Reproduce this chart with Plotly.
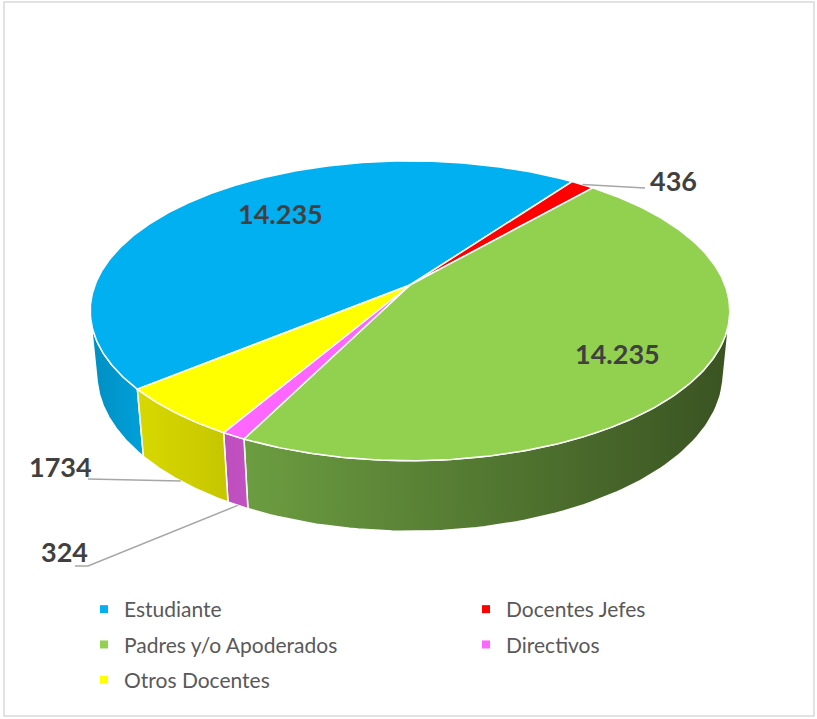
import numpy as np
import plotly.graph_objects as go

# ---------------- data ----------------
categories = ["Estudiante", "Docentes Jefes", "Padres y/o Apoderados", "Directivos", "Otros Docentes"]
values = [14235, 436, 14235, 324, 1734]
value_labels = ["14.235", "436", "14.235", "324", "1734"]

# ---------------- style ----------------
top_colors = ["#00B0F0", "#FF0000", "#92D050", "#FF66FF", "#FFFF00"]
side_colors = [["#008FC2", "#00A0DA"], ["#CC0000", "#CC0000"], ["#6C9D41", "#3A5322"],
               ["#BE4EBE", "#C252C2"], ["#D8D800", "#C6C600"]]
W, H = 817, 719
CX, CY = 410, 285          # projected pie centre (px)
K = 315                    # radius scale (px)
ELEV = np.radians(27.5)    # view elevation
DIST = 5.15                # camera distance (in radii)
HEIGHT = 0.227             # pie thickness (in radii)
START = 219.6              # first slice angle (deg), slices go clockwise
FONT = "Lato, 'Open Sans', sans-serif"
LABEL_COLOR = "#404040"
LEADER_COLOR = "#A6A6A6"
# inside label placement: index -> (radius fraction, angle offset deg)
INSIDE = {0: (0.70, -7.0), 2: (0.75, -2.0)}
# leader paths / text anchors for the small slices (index -> style)
OUTSIDE = {
    1: dict(y=0.0, path=[(645, 188)], text=(648, 180), anchor="left"),
    4: dict(y=-HEIGHT, path=[(88, 479)], text=(94, 466), anchor="right"),
    3: dict(y=-HEIGHT, path=[(88, 566), (75, 566)], text=(90, 551), anchor="right"),
}
# legend columns: which legend each category goes into
legend_of = ["legend", "legend2", "legend", "legend2", "legend"]


def project(theta_deg, r=1.0, y=0.0):
    th = np.radians(np.asarray(theta_deg, dtype=float))
    X = r * np.cos(th)
    Z = -r * np.sin(th)
    s, c = np.sin(ELEV), np.cos(ELEV)
    up = y * c - Z * s
    depth = y * s + Z * c
    scale = DIST / (DIST - depth)
    return CX + K * X * scale, CY - K * up * scale


total = float(sum(values))
spans = [v / total * 360.0 for v in values]
starts = [START - sum(spans[:i]) for i in range(len(values))]
ends = [starts[i] - spans[i] for i in range(len(values))]

# visible wall range (front side of the cylinder)
a = np.degrees(np.arcsin(1.0 / (DIST * np.cos(ELEV))))
vis_lo, vis_hi = 180 + a, 360 - a

fig = go.Figure()

# ---- walls ----
for i in range(len(values)):
    lo, hi = ends[i], starts[i]
    for shift in (-720, -360, 0, 360):
        l2, h2 = max(lo, vis_lo + shift), min(hi, vis_hi + shift)
        if h2 > l2:
            th = np.linspace(h2, l2, 80)
            xt, yt = project(th)
            xb, yb = project(th[::-1], y=-HEIGHT)
            xs = np.concatenate([xt, xb, xt[:1]])
            ys = np.concatenate([yt, yb, yt[:1]])
            fig.add_trace(go.Scatter(
                x=xs, y=ys, mode="lines", fill="toself",
                line=dict(color="white", width=1.5),
                fillgradient=dict(type="horizontal",
                                  colorscale=[[0, side_colors[i][0]], [1, side_colors[i][1]]]),
                hoverinfo="skip", showlegend=False))

# ---- top faces ----
ax, ay = project(0.0, r=0.0)
for i in range(len(values)):
    th = np.linspace(starts[i], ends[i], max(4, int(spans[i] * 2)))
    xt, yt = project(th)
    xs = np.concatenate([[ax], xt, [ax]])
    ys = np.concatenate([[ay], yt, [ay]])
    fig.add_trace(go.Scatter(
        x=xs, y=ys, mode="lines", fill="toself", fillcolor=top_colors[i],
        line=dict(color="white", width=1.5),
        name=categories[i], hoverinfo="name", showlegend=False))

# ---- data labels ----
for i in range(len(values)):
    mid = (starts[i] + ends[i]) / 2
    if i in OUTSIDE:
        st = OUTSIDE[i]
        px, py = project(mid, y=st["y"])
        lx = [float(px)] + [p[0] for p in st["path"]]
        ly = [float(py)] + [p[1] for p in st["path"]]
        fig.add_trace(go.Scatter(x=lx, y=ly, mode="lines",
                                 line=dict(color=LEADER_COLOR, width=1.5),
                                 hoverinfo="skip", showlegend=False))
        fig.add_annotation(x=st["text"][0], y=st["text"][1], text=value_labels[i],
                           showarrow=False, xanchor=st["anchor"], yanchor="middle",
                           font=dict(family=FONT, size=27, color=LABEL_COLOR, weight="bold"))
    else:
        rf, off = INSIDE.get(i, (0.7, 0.0))
        px, py = project(mid + off, r=rf)
        fig.add_annotation(x=float(px), y=float(py), text=value_labels[i],
                           showarrow=False, xanchor="center", yanchor="middle",
                           font=dict(family=FONT, size=27, color=LABEL_COLOR, weight="bold"))

# ---- legend entries ----
for i in range(len(values)):
    fig.add_trace(go.Scatter(x=[None], y=[None], mode="markers",
                             marker=dict(symbol="square", size=8, color=top_colors[i]),
                             name=categories[i], showlegend=True,
                             legend=legend_of[i], legendgroup="g%d" % i))

fig.add_shape(type="rect", x0=4, y0=2, x1=W - 3, y1=H - 3,
              line=dict(color="#D9D9D9", width=1.5), layer="below")

leg_common = dict(orientation="v", yanchor="top", xanchor="left", itemwidth=30,
                  tracegroupgap=5, font=dict(family=FONT, size=21, color="#595959"),
                  bgcolor="rgba(0,0,0,0)")
fig.update_layout(
    width=W, height=H,
    margin=dict(l=0, r=0, t=0, b=0),
    paper_bgcolor="white", plot_bgcolor="white",
    xaxis=dict(range=[0, W], visible=False, fixedrange=True),
    yaxis=dict(range=[H, 0], visible=False, fixedrange=True),
    legend=dict(x=84 / W, y=1 - 589 / H, **leg_common),
    legend2=dict(x=466 / W, y=1 - 589 / H, **leg_common),
    font=dict(family=FONT),
)

fig.write_html("out.html", config={"displayModeBar": False},
               post_script="document.body.style.margin='0';document.body.style.overflow='hidden';")
